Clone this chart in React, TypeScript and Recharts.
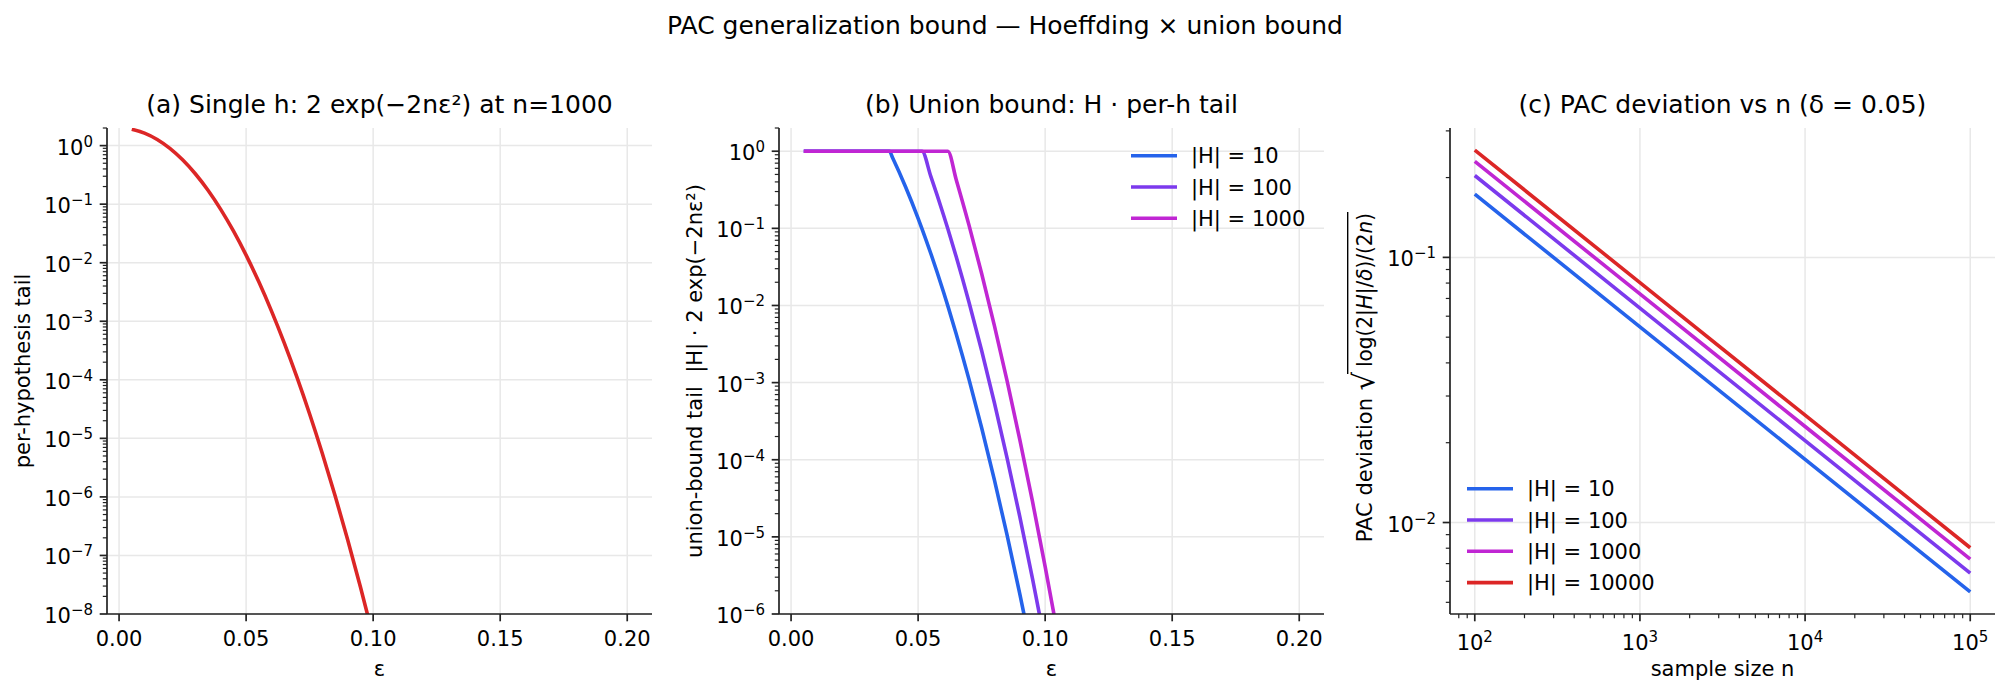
import React from "react";
import { CartesianGrid, Line, LineChart, XAxis, YAxis } from "recharts";

const FONT = "DejaVu Sans, Verdana, sans-serif";
const INK = "#222222";
const GRID = "#e8e8e8";
const LW = 3.6;

// series colours, same order as the |H| labels
const COLORS = ["#2563eb", "#7c3aed", "#c026d3", "#dc2626"];
const hLabels = ["|H| = 10", "|H| = 100", "|H| = 1000", "|H| = 10000"];

// (a) single hypothesis tail, n = 1000
const epsA = [
  0.005, 0.01, 0.015, 0.02, 0.025, 0.03, 0.035, 0.04, 0.045, 0.05, 0.055, 0.06,
  0.065, 0.07, 0.075, 0.08, 0.085, 0.09, 0.095, 0.1,
];
const tailA = [
  1.9025, 1.6375, 1.2753, 0.8987, 0.573, 0.3306, 0.1726, 0.08152, 0.03485,
  0.013476, 0.004716, 0.001493, 0.0004279, 0.0001109, 2.602e-5, 5.52e-6,
  1.06e-6, 1.843e-7, 2.9e-8, 4.12e-9,
];

// (b) union bound, clipped at 1
const epsB = [
  0.005, 0.01, 0.015, 0.02, 0.025, 0.03, 0.035, 0.0387, 0.04, 0.045, 0.05,
  0.0515, 0.055, 0.06, 0.0617, 0.065, 0.07, 0.075, 0.08, 0.085, 0.09, 0.095,
  0.1, 0.105, 0.11,
];
const unionH10 = [
  1, 1, 1, 1, 1, 1, 1, 1, 0.815, 0.3485, 0.1348, 0.0994, 0.04716, 0.01493,
  0.00988, 0.004279, 0.001109, 2.602e-4, 5.52e-5, 1.06e-5, 1.843e-6, 2.9e-7,
  4.12e-8, 5.3e-9, 6.2e-10,
];
const unionH100 = [
  1, 1, 1, 1, 1, 1, 1, 1, 1, 1, 1, 1, 0.4716, 0.1493, 0.0988, 0.04279,
  0.01109, 0.002602, 5.52e-4, 1.06e-4, 1.843e-5, 2.9e-6, 4.12e-7, 5.3e-8,
  6.2e-9,
];
const unionH1000 = [
  1, 1, 1, 1, 1, 1, 1, 1, 1, 1, 1, 1, 1, 1, 1, 0.4279, 0.1109, 0.02602,
  0.00552, 0.00106, 1.843e-4, 2.9e-5, 4.12e-6, 5.3e-7, 6.2e-8,
];

// (c) PAC deviation vs sample size, delta = 0.05
const sampleN = [100, 1000, 10000, 100000];
const devH10 = [0.17308, 0.054733, 0.017308, 0.0054733];
const devH100 = [0.20364, 0.064397, 0.020364, 0.0064397];
const devH1000 = [0.23018, 0.07279, 0.023018, 0.007279];
const devH10000 = [0.25396, 0.08031, 0.025396, 0.008031];

const linTicks = [0, 0.05, 0.1, 0.15, 0.2];

const dataA = epsA.map((eps, i) => ({ eps, tail: tailA[i] }));
const dataB = epsB.map((eps, i) => ({
  eps,
  h10: unionH10[i],
  h100: unionH100[i],
  h1000: unionH1000[i],
}));
const dataC = sampleN.map((n, i) => ({
  n,
  h10: devH10[i],
  h100: devH100[i],
  h1000: devH1000[i],
  h10000: devH10000[i],
}));

function logTicks(lo: number, hi: number) {
  const out: number[] = [];
  for (let e = Math.floor(Math.log10(lo)); e <= Math.ceil(Math.log10(hi)); e++) {
    for (let m = 1; m <= 9; m++) {
      const v = Number((m * Math.pow(10, e)).toPrecision(6));
      if (v >= lo * 0.9999 && v <= hi * 1.0001) out.push(v);
    }
  }
  return out;
}
const isMajor = (v: number) => {
  const e = Math.log10(v);
  return Math.abs(e - Math.round(e)) < 1e-6;
};
const supText = (v: number) => {
  const e = Math.round(Math.log10(v));
  return e < 0 ? "\u2212" + Math.abs(e) : String(e);
};

const LogYTick = (props: any) => {
  const { x, y, payload } = props;
  const v = payload.value;
  const major = isMajor(v);
  return (
    <g>
      <line x1={x} x2={x - (major ? 7.3 : 4.2)} y1={y} y2={y} stroke={INK} strokeWidth={major ? 1.7 : 1.2} />
      {major && (
        <text x={x - 14} y={y + 9} textAnchor="end" fontFamily={FONT} fontSize={21} fill="#000">
          10
          <tspan dy={-8} fontSize={15}>
            {supText(v)}
          </tspan>
        </text>
      )}
    </g>
  );
};

const LogXTick = (props: any) => {
  const { x, y, payload } = props;
  const v = payload.value;
  const major = isMajor(v);
  return (
    <g>
      <line x1={x} x2={x} y1={y} y2={y + (major ? 7.3 : 4.2)} stroke={INK} strokeWidth={major ? 1.7 : 1.2} />
      {major && (
        <text x={x} y={y + 36} textAnchor="middle" fontFamily={FONT} fontSize={21} fill="#000">
          10
          <tspan dy={-8} fontSize={15}>
            {supText(v)}
          </tspan>
        </text>
      )}
    </g>
  );
};

const LinXTick = (props: any) => {
  const { x, y, payload } = props;
  return (
    <g>
      <line x1={x} x2={x} y1={y} y2={y + 7.3} stroke={INK} strokeWidth={1.7} />
      <text x={x} y={y + 32} textAnchor="middle" fontFamily={FONT} fontSize={21} fill="#000">
        {payload.value.toFixed(2)}
      </text>
    </g>
  );
};

const axisLine = { stroke: INK, strokeWidth: 1.7 };
const epsDomain = [-0.00475, 0.20975];

const yTicksA = logTicks(1e-8, 2);
const yTicksB = logTicks(1e-6, 2);
const xDomainC = [70.79, 141254];
const yDomainC = [0.004518, 0.3076];
const xTicksC = logTicks(xDomainC[0], xDomainC[1]);
const yTicksC = logTicks(yDomainC[0], yDomainC[1]);

const txt = { fontFamily: FONT, fill: "#000" };

function LegendRows({ x, y, n }: { x: number; y: number; n: number }) {
  return (
    <g>
      {hLabels.slice(0, n).map((lab, i) => (
        <g key={lab}>
          <line x1={x} x2={x + 46} y1={y + i * 31.3} y2={y + i * 31.3} stroke={COLORS[i]} strokeWidth={LW} />
          <text x={x + 60} y={y + i * 31.3 + 7.5} fontSize={21} {...txt}>
            {lab}
          </text>
        </g>
      ))}
    </g>
  );
}

export default function App() {
  return (
    <div style={{ position: "absolute", left: 0, top: 0, width: 2010, height: 698, background: "#fff" }}>
      {/* (a) */}
      <div style={{ position: "absolute", left: 0, top: 0 }}>
        <LineChart width={670} height={698} data={dataA} margin={{ top: 128, right: 18, bottom: 44, left: 0 }}>
          <CartesianGrid stroke={GRID} strokeWidth={1.5} horizontalValues={yTicksA.filter(isMajor)} verticalValues={linTicks} />
          <XAxis dataKey="eps" type="number" domain={epsDomain} allowDataOverflow ticks={linTicks} interval={0}
            tickSize={0} tickMargin={0} tickLine={false} axisLine={axisLine} tick={(p: any) => <LinXTick {...p} />} height={40} />
          <YAxis type="number" scale="log" domain={[1e-8, 2]} allowDataOverflow ticks={yTicksA} interval={0}
            tickSize={0} tickMargin={0} tickLine={false} axisLine={axisLine} tick={(p: any) => <LogYTick {...p} />} width={107} />
          <Line dataKey="tail" type="monotone" stroke={COLORS[3]} strokeWidth={LW} dot={false} isAnimationActive={false} />
        </LineChart>
      </div>
      {/* (b) */}
      <div style={{ position: "absolute", left: 670, top: 0 }}>
        <LineChart width={670} height={698} data={dataB} margin={{ top: 128, right: 16, bottom: 44, left: 0 }}>
          <CartesianGrid stroke={GRID} strokeWidth={1.5} horizontalValues={yTicksB.filter(isMajor)} verticalValues={linTicks} />
          <XAxis dataKey="eps" type="number" domain={epsDomain} allowDataOverflow ticks={linTicks} interval={0}
            tickSize={0} tickMargin={0} tickLine={false} axisLine={axisLine} tick={(p: any) => <LinXTick {...p} />} height={40} />
          <YAxis type="number" scale="log" domain={[1e-6, 2]} allowDataOverflow ticks={yTicksB} interval={0}
            tickSize={0} tickMargin={0} tickLine={false} axisLine={axisLine} tick={(p: any) => <LogYTick {...p} />} width={109} />
          <Line dataKey="h10" type="monotone" stroke={COLORS[0]} strokeWidth={LW} dot={false} isAnimationActive={false} />
          <Line dataKey="h100" type="monotone" stroke={COLORS[1]} strokeWidth={LW} dot={false} isAnimationActive={false} />
          <Line dataKey="h1000" type="monotone" stroke={COLORS[2]} strokeWidth={LW} dot={false} isAnimationActive={false} />
        </LineChart>
      </div>
      {/* (c) */}
      <div style={{ position: "absolute", left: 1340, top: 0 }}>
        <LineChart width={670} height={698} data={dataC} margin={{ top: 128, right: 15, bottom: 44, left: 0 }}>
          <CartesianGrid stroke={GRID} strokeWidth={1.5} horizontalValues={yTicksC.filter(isMajor)} verticalValues={xTicksC.filter(isMajor)} />
          <XAxis dataKey="n" type="number" scale="log" domain={xDomainC} allowDataOverflow ticks={xTicksC} interval={0}
            tickSize={0} tickMargin={0} tickLine={false} axisLine={axisLine} tick={(p: any) => <LogXTick {...p} />} height={40} />
          <YAxis type="number" scale="log" domain={yDomainC} allowDataOverflow ticks={yTicksC} interval={0}
            tickSize={0} tickMargin={0} tickLine={false} axisLine={axisLine} tick={(p: any) => <LogYTick {...p} />} width={110} />
          <Line dataKey="h10" type="linear" stroke={COLORS[0]} strokeWidth={LW} dot={false} isAnimationActive={false} />
          <Line dataKey="h100" type="linear" stroke={COLORS[1]} strokeWidth={LW} dot={false} isAnimationActive={false} />
          <Line dataKey="h1000" type="linear" stroke={COLORS[2]} strokeWidth={LW} dot={false} isAnimationActive={false} />
          <Line dataKey="h10000" type="linear" stroke={COLORS[3]} strokeWidth={LW} dot={false} isAnimationActive={false} />
        </LineChart>
      </div>

      {/* titles, axis labels and legends */}
      <svg width={2010} height={698} style={{ position: "absolute", left: 0, top: 0, pointerEvents: "none" }}>
        <text x={1005} y={34} textAnchor="middle" fontSize={25} {...txt}>
          PAC generalization bound — Hoeffding × union bound
        </text>
        <text x={379.5} y={113} textAnchor="middle" fontSize={25} {...txt}>
          (a) Single h: 2 exp(−2nε²) at n=1000
        </text>
        <text x={1051.5} y={113} textAnchor="middle" fontSize={25} {...txt}>
          (b) Union bound: H · per-h tail
        </text>
        <text x={1722.5} y={113} textAnchor="middle" fontSize={25} {...txt}>
          (c) PAC deviation vs n (δ = 0.05)
        </text>

        <text x={379.5} y={676} textAnchor="middle" fontSize={21} {...txt}>ε</text>
        <text x={1051.5} y={676} textAnchor="middle" fontSize={21} {...txt}>ε</text>
        <text x={1722.5} y={676} textAnchor="middle" fontSize={21} {...txt}>sample size n</text>

        <text transform="translate(29.5,371) rotate(-90)" textAnchor="middle" fontSize={21} {...txt}>
          per-hypothesis tail
        </text>
        <text transform="translate(701.5,371) rotate(-90)" textAnchor="middle" fontSize={21} {...txt}>
          {"union-bound tail \u00a0|H| · 2 exp(−2nε²)"}
        </text>
        <g transform="translate(1371.7,370) rotate(-90)">
          <text x={-28} y={0} textAnchor="end" fontSize={21} {...txt}>PAC deviation</text>
          <text x={-2} y={2} textAnchor="end" fontSize={29} {...txt}>√</text>
          <line x1={-4} x2={158} y1={-24} y2={-24} stroke="#000" strokeWidth={1.4} />
          <text x={3} y={0} fontSize={21} textLength={154} lengthAdjust="spacingAndGlyphs" {...txt}>
            log(2|<tspan fontStyle="italic">H</tspan>|/<tspan fontStyle="italic">δ</tspan>)/(2<tspan fontStyle="italic">n</tspan>)
          </text>
        </g>

        <LegendRows x={1131} y={155.7} n={3} />
        <LegendRows x={1467} y={488.7} n={4} />
      </svg>
    </div>
  );
}
